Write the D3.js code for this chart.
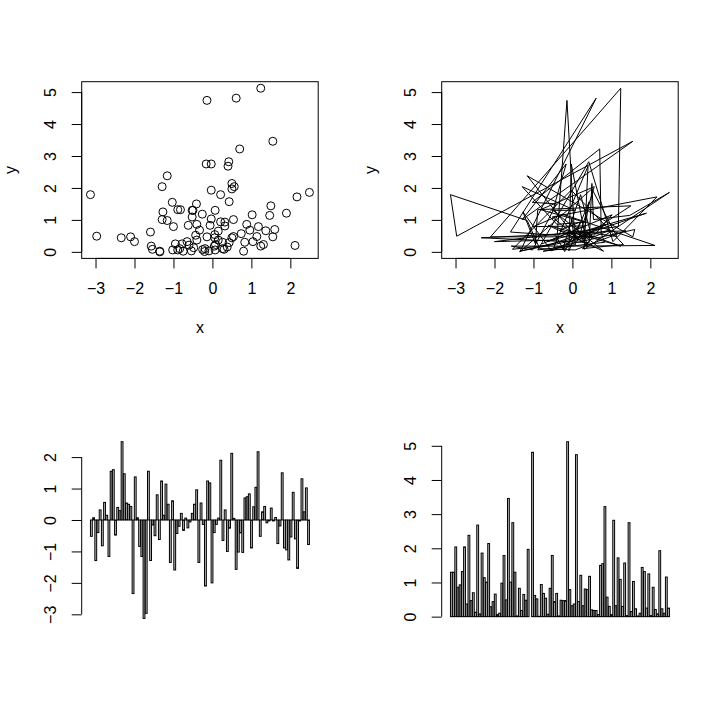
<!DOCTYPE html>
<html><head><meta charset="utf-8">
<script src="https://cdn.jsdelivr.net/npm/d3@7"></script>
<style>
body{margin:0;background:#fff}
svg{display:block}
text{font-family:"Liberation Sans",Arial,Helvetica,sans-serif;font-size:16px;fill:#000}
</style>
</head><body>
<svg id="c" width="720" height="720"></svg>
<script>
const xVals=[-0.52,0.07,-1.29,-0.40,0.32,-0.82,0.56,0.15,-1.16,1.55,
1.60,-0.48,0.40,0.30,2.49,1.47,0.54,0.50,0.43,-2.34,
1.37,0.07,-0.84,-1.16,-3.13,-2.97,1.55,-1.29,-0.16,-0.50,
0.80,-0.62,1.24,0.15,1.14,0.50,-1.35,0.61,-1.59,-0.43,
-0.20,0.21,-0.33,0.06,-0.25,-0.06,0.21,0.50,0.96,-1.35,
0.54,-0.14,-2.10,1.24,1.18,-2.00,-0.40,-0.14,0.06,1.90,
-0.65,0.32,-1.00,-0.26,2.12,0.05,-1.57,-1.02,-0.41,-1.03,
0.70,0.74,0.83,-0.89,0.42,1.04,2.17,-0.52,0.26,0.43,
-0.09,-0.03,0.38,-0.03,0.08,-0.75,-0.19,1.50,-0.89,-0.95,
-1.27,-0.54,0.88,-0.60,-1.54,-0.03,1.31,0.26,1.02,-0.78];
const yVals=[1.30,1.30,2.04,0.86,0.93,1.32,2.04,0.37,2.38,0.47,
0.70,0.13,2.68,0.08,1.86,1.14,1.01,2.14,0.29,0.44,
0.66,0.06,0.10,0.98,1.79,0.49,3.46,1.01,2.75,1.30,
0.02,0.83,0.18,0.65,0.48,1.97,0.00,4.81,0.62,0.52,
0.01,0.94,0.68,0.54,0.07,0.83,1.79,0.44,0.68,0.02,
0.48,0.47,0.47,5.12,0.79,0.32,0.37,4.74,0.44,1.21,
0.32,0.81,0.79,1.18,0.20,0.18,0.18,0.06,1.50,1.55,
3.22,0.57,0.30,0.06,2.82,0.32,1.72,1.09,0.30,1.57,
0.03,2.75,0.15,1.03,0.23,0.02,0.10,1.44,1.32,0.25,
1.25,0.03,0.86,0.21,0.08,1.93,0.23,0.10,1.16,0.25];
const xTicks=[-3,-2,-1,0,1,2];
const yTicks=[0,1,2,3,4,5];
const barXValTicks=[-3,-2,-1,0,1,2];
const barYValTicks=[0,1,2,3,4,5];
const xLabel="x", yLabel="y";

const svg=d3.select("#c");
const P={l:81.7,r:318.2,t:81.7,b:258.4};
const panels=[{ox:0,oy:0},{ox:360,oy:0},{ox:0,oy:360},{ox:360,oy:360}];

function ext(v,ex){const e=d3.extent(v);const r=e[1]-e[0];return ex?[e[0]-0.04*r,e[1]+0.04*r]:e;}

function yAxis(g,scale,ticks){
  const ax=d3.axisLeft(scale).tickValues(ticks).tickSize(10).tickSizeOuter(0).tickFormat(d3.format("d"));
  g.call(ax);
  g.select(".domain").remove();
  g.selectAll(".tick line").attr("stroke","#000");
  g.selectAll(".tick text").attr("x",null).attr("dy",null).attr("y",0)
   .attr("text-anchor","middle").attr("fill","#000")
   .attr("font-size",null).attr("font-family",null)
   .attr("transform","translate(-26,0) rotate(-90)");
  g.append("line").attr("x1",0).attr("x2",0)
   .attr("y1",scale(ticks[0])).attr("y2",scale(ticks[ticks.length-1])).attr("stroke","#000");
}
function xAxis(g,scale,ticks){
  const ax=d3.axisBottom(scale).tickValues(ticks).tickSize(10).tickSizeOuter(0).tickFormat(d3.format("d"));
  g.call(ax);
  g.select(".domain").remove();
  g.selectAll(".tick line").attr("stroke","#000");
  g.selectAll(".tick text").attr("dy",null).attr("y",36).attr("fill","#000")
   .attr("font-size",null).attr("font-family",null);
  g.append("line").attr("y1",0).attr("y2",0)
   .attr("x1",scale(ticks[0])).attr("x2",scale(ticks[ticks.length-1])).attr("stroke","#000");
}
function labels(g){
  g.append("text").attr("x",(P.l+P.r)/2).attr("y",333).attr("text-anchor","middle").text(xLabel);
  g.append("text").attr("transform",`translate(16,${(P.t+P.b)/2}) rotate(-90)`).attr("text-anchor","middle").text(yLabel);
}

const sx=d3.scaleLinear().domain(ext(xVals,true)).range([P.l,P.r]);
const sy=d3.scaleLinear().domain(ext(yVals,true)).range([P.b,P.t]);

{
  const g=svg.append("g").attr("transform",`translate(${panels[0].ox},${panels[0].oy})`);
  g.selectAll("circle").data(xVals).join("circle")
   .attr("cx",d=>sx(d)).attr("cy",(d,i)=>sy(yVals[i])).attr("r",4)
   .attr("fill","none").attr("stroke","#000").attr("stroke-width",1);
  g.append("rect").attr("x",P.l).attr("y",P.t).attr("width",P.r-P.l).attr("height",P.b-P.t)
   .attr("fill","none").attr("stroke","#000");
  xAxis(g.append("g").attr("transform",`translate(0,${P.b})`),sx,xTicks);
  yAxis(g.append("g").attr("transform",`translate(${P.l},0)`),sy,yTicks);
  labels(g);
}
{
  const g=svg.append("g").attr("transform",`translate(${panels[1].ox},${panels[1].oy})`);
  const line=d3.line().x(d=>sx(d[0])).y(d=>sy(d[1]));
  g.append("path").attr("d",line(xVals.map((d,i)=>[d,yVals[i]])))
   .attr("fill","none").attr("stroke","#000").attr("stroke-width",1).attr("stroke-linejoin","round");
  g.append("rect").attr("x",P.l).attr("y",P.t).attr("width",P.r-P.l).attr("height",P.b-P.t)
   .attr("fill","none").attr("stroke","#000");
  xAxis(g.append("g").attr("transform",`translate(0,${P.b})`),sx,xTicks);
  yAxis(g.append("g").attr("transform",`translate(${P.l},0)`),sy,yTicks);
  labels(g);
}
const n=xVals.length;
const bx=d3.scaleLinear().domain(ext([0.2,1.2*n],true)).range([P.l,P.r]);
function barPanel(p,vals,ticks){
  const g=svg.append("g").attr("transform",`translate(${p.ox},${p.oy})`);
  const dom=d3.extent([...vals,...vals.map(v=>-0.01*v)]);
  const by=d3.scaleLinear().domain(dom).range([P.b,P.t]);
  g.selectAll("rect").data(vals).join("rect")
   .attr("x",(d,i)=>bx(0.2+1.2*i)).attr("width",(d,i)=>bx(1.2*(i+1))-bx(0.2+1.2*i))
   .attr("y",d=>Math.min(by(d),by(0))).attr("height",d=>Math.abs(by(d)-by(0)))
   .attr("fill","#bebebe").attr("stroke","#000").attr("stroke-width",1);
  yAxis(g.append("g").attr("transform",`translate(${P.l},0)`),by,ticks);
}
barPanel(panels[2],xVals,barXValTicks);
barPanel(panels[3],yVals,barYValTicks);
</script>
</body></html>
